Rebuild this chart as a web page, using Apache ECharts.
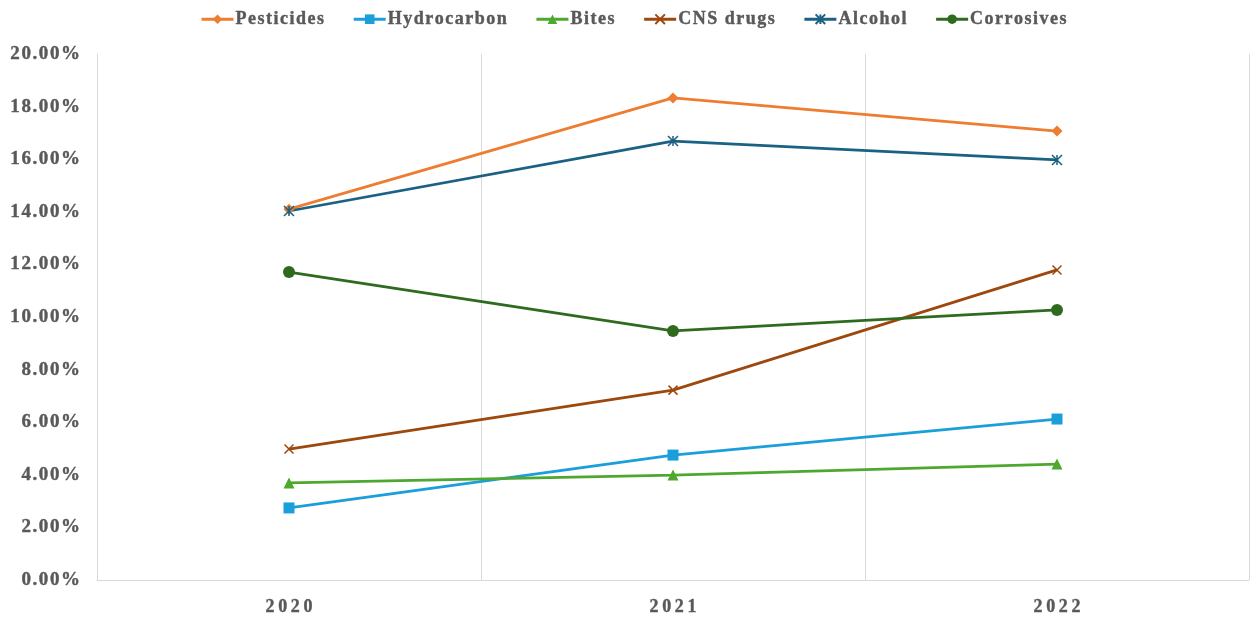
<!DOCTYPE html>
<html><head><meta charset="utf-8">
<script src="https://cdn.jsdelivr.net/npm/echarts@6/dist/echarts.min.js"></script>
<style>html,body{margin:0;padding:0;background:#fff}#c{width:1252px;height:617px}</style>
</head><body><div id="c"></div>
<script>
const years = ['2020', '2021', '2022'];
const pesticides = [14.10, 18.33, 17.07];
const hydrocarbon = [2.74, 4.75, 6.12];
const bites = [3.69, 3.99, 4.41];
const cnsDrugs = [4.98, 7.22, 11.79];
const alcohol = [14.03, 16.69, 15.97];
const corrosives = [11.71, 9.47, 10.27];

const xPath = 'path://M0,0L10,10M10,0L0,10';
const starPath = 'path://M0,0L10,10M10,0L0,10M5,0L5,10';
const font = '"Liberation Serif", "Times New Roman", serif';
const spaced = (t, sp) => String(t).split('').join(sp);
const txt = { fontFamily: font, fontWeight: 'bold', color: '#595959', textBorderColor: '#595959', textBorderWidth: 0.4 };

function s(name, data, color, symbol, size, extra) {
  return Object.assign({
    name, type: 'line', data, symbol, symbolSize: size,
    lineStyle: { color, width: 2.75 },
    itemStyle: { color, borderColor: color, borderWidth: 0 },
    emphasis: { disabled: true }
  }, extra || {});
}
const lineSym = (color) => ({ itemStyle: { color: 'none', borderColor: color, borderWidth: 1.5 } });

const chart = echarts.init(document.getElementById('c'));
chart.setOption({
  animation: false,
  textStyle: { fontFamily: font },
  legend: {
    top: 5, left: 195, itemGap: 28, itemWidth: 32, itemHeight: 12,
    lineStyle: { width: 3 },
    formatter: n => spaced(n, '\u200a'),
    textStyle: Object.assign({ fontSize: 18, padding: [0, 0, 0, -3] }, txt)
  },
  grid: { left: 97, right: 3, top: 54, bottom: 37, containLabel: false },
  xAxis: {
    type: 'category', data: years, boundaryGap: true,
    axisLine: { lineStyle: { color: '#d9d9d9', width: 1 } },
    axisTick: { show: false },
    splitLine: { show: true, lineStyle: { color: '#d9d9d9', width: 1 } },
    axisLabel: Object.assign({ fontSize: 18, margin: 18, formatter: v => spaced(v, '\u2009') }, txt)
  },
  yAxis: {
    type: 'value', min: 0, max: 20, interval: 2,
    axisLine: { show: true, lineStyle: { color: '#d9d9d9', width: 1 } },
    axisTick: { show: false },
    splitLine: { show: false },
    axisLabel: Object.assign({ fontSize: 19, margin: 17, formatter: v => spaced(v.toFixed(2) + '%', '\u200a') }, txt)
  },
  series: [
    s('Pesticides', pesticides, '#ED7D31', 'diamond', 11),
    s('Hydrocarbon', hydrocarbon, '#1B9FDA', 'rect', 11),
    s('Bites', bites, '#4EA72E', 'triangle', 11),
    s('CNS drugs', cnsDrugs, '#9E480E', xPath, 9, lineSym('#9E480E')),
    s('Alcohol', alcohol, '#1A6184', starPath, 10, lineSym('#1A6184')),
    s('Corrosives', corrosives, '#2F6B1E', 'circle', 12)
  ]
});
</script></body></html>
